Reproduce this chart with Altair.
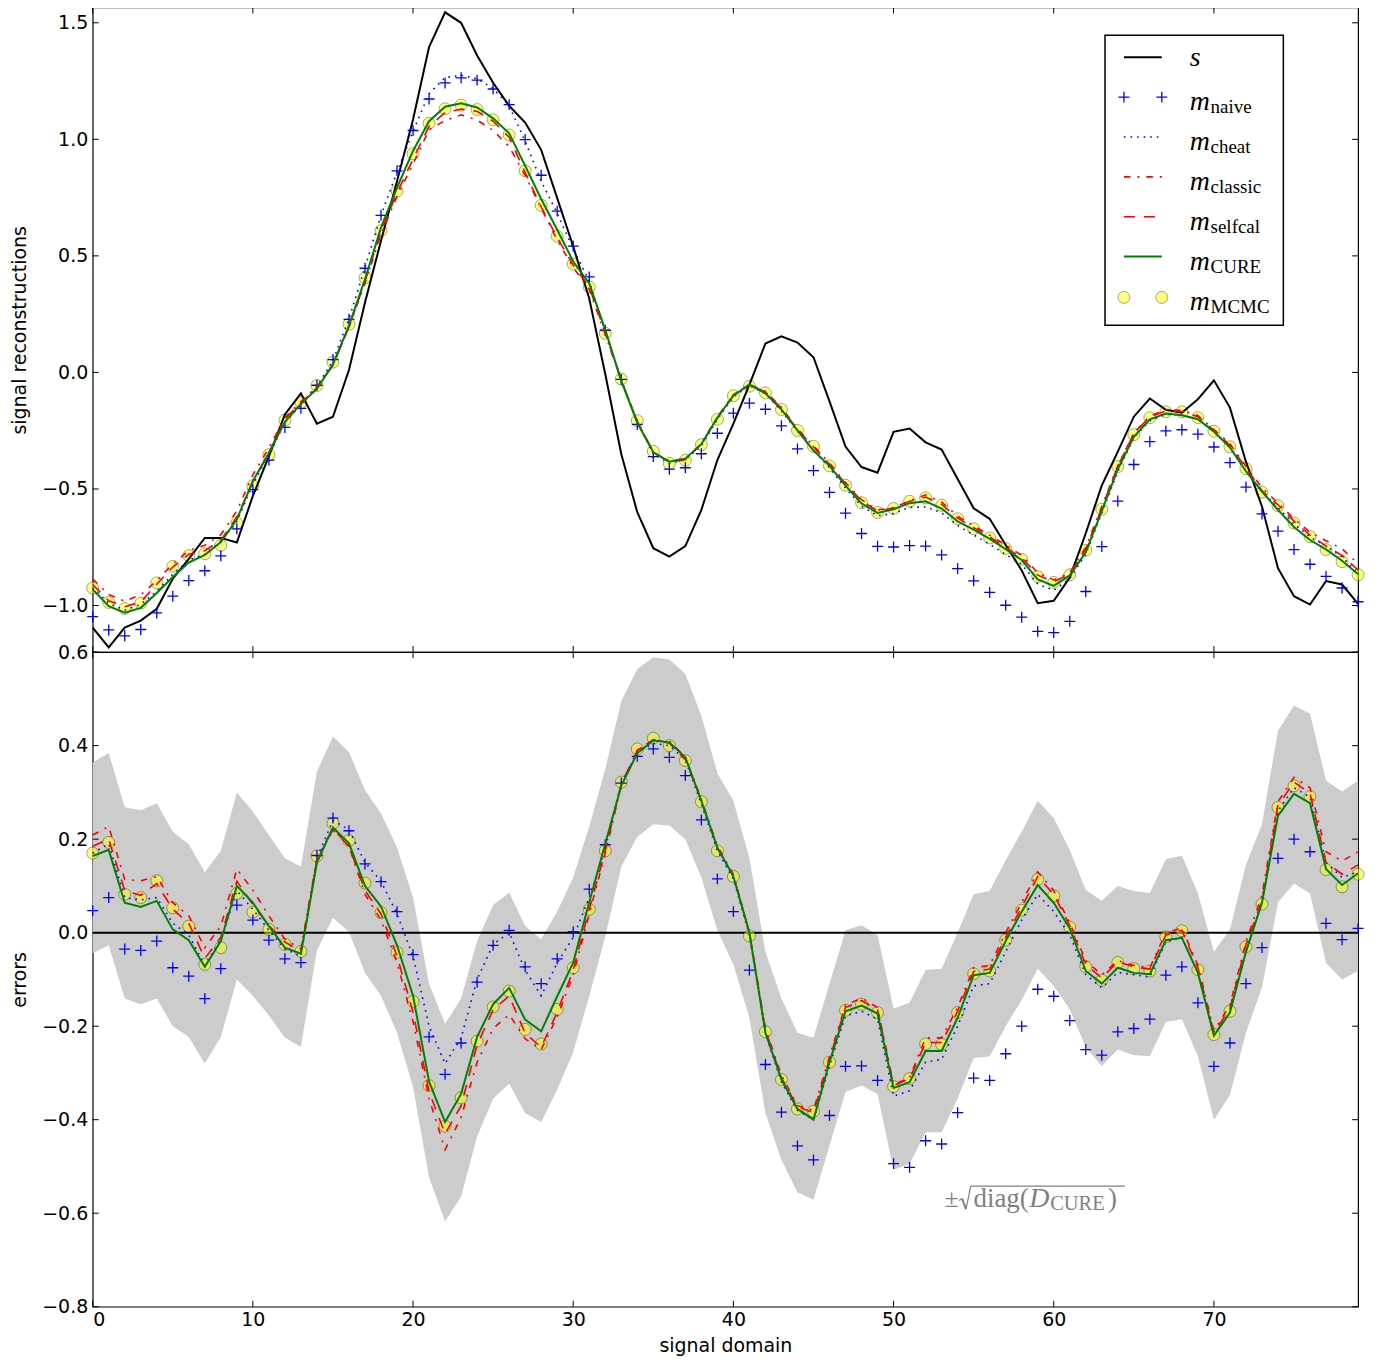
import altair as alt
import pandas as pd

# ---------------- data ----------------
x_vals = list(range(80))

s = [-1.095, -1.18, -1.095, -1.065, -1.014, -0.885, -0.80, -0.71, -0.71, -0.73,
     -0.53, -0.36, -0.18, -0.09, -0.22, -0.19, 0.01, 0.30, 0.565, 0.82,
     1.085, 1.396, 1.545, 1.50, 1.36, 1.243, 1.144, 1.072, 0.955, 0.748,
     0.54, 0.317, -0.007, -0.35, -0.60, -0.754, -0.79, -0.745, -0.59, -0.376,
     -0.22, -0.052, 0.124, 0.155, 0.128, 0.065, -0.124, -0.318, -0.406, -0.43,
     -0.255, -0.241, -0.30, -0.331, -0.457, -0.583, -0.628, -0.74, -0.85, -0.99,
     -0.98, -0.88, -0.69, -0.485, -0.34, -0.19, -0.112, -0.16, -0.173, -0.115,
     -0.034, -0.151, -0.383, -0.575, -0.84, -0.96, -0.996, -0.895, -0.91, -0.993]

err_naive = [0.047, 0.075, -0.035, -0.038, -0.018, -0.075, -0.093, -0.141, -0.077, 0.059,
             0.027, -0.016, -0.056, -0.064, 0.165, 0.245, 0.218, 0.147, 0.109, 0.045,
             -0.047, -0.223, -0.303, -0.236, -0.106, -0.027, 0.005, -0.073, -0.109, -0.056,
             0.002, 0.093, 0.188, 0.32, 0.377, 0.393, 0.375, 0.336, 0.241, 0.115,
             0.045, -0.08, -0.282, -0.384, -0.456, -0.486, -0.391, -0.286, -0.285, -0.316,
             -0.494, -0.502, -0.445, -0.452, -0.385, -0.311, -0.316, -0.259, -0.2, -0.121,
             -0.136, -0.188, -0.25, -0.262, -0.212, -0.205, -0.185, -0.091, -0.073, -0.15,
             -0.286, -0.236, -0.109, -0.032, 0.159, 0.2, 0.173, 0.02, -0.015, 0.009]

err_cheat = [0.17, 0.19, 0.075, 0.07, 0.075, 0.02, -0.005, -0.07, -0.015, 0.09,
             0.05, 0.005, -0.035, -0.05, 0.16, 0.24, 0.22, 0.15, 0.11, 0.04,
             -0.05, -0.2, -0.28, -0.225, -0.1, -0.025, 0.0, -0.08, -0.135, -0.065,
             -0.01, 0.075, 0.18, 0.32, 0.385, 0.405, 0.40, 0.37, 0.275, 0.175,
             0.115, -0.005, -0.215, -0.32, -0.38, -0.40, -0.285, -0.178, -0.168, -0.185,
             -0.35, -0.338, -0.277, -0.271, -0.2, -0.114, -0.109, -0.041, 0.027, 0.082,
             0.045, -0.005, -0.09, -0.118, -0.085, -0.09, -0.095, -0.02, -0.01, -0.085,
             -0.22, -0.17, -0.04, 0.065, 0.26, 0.31, 0.29, 0.15, 0.118, 0.13]

err_classic = [0.209, 0.227, 0.114, 0.111, 0.12, 0.064, 0.036, -0.032, 0.014, 0.136,
               0.091, 0.036, -0.014, -0.035, 0.159, 0.223, 0.184, 0.082, 0.027, -0.064,
               -0.19, -0.355, -0.464, -0.395, -0.277, -0.205, -0.175, -0.227, -0.25, -0.18,
               -0.09, 0.04, 0.17, 0.315, 0.39, 0.41, 0.41, 0.375, 0.285, 0.185,
               0.125, 0.0, -0.205, -0.305, -0.37, -0.38, -0.265, -0.155, -0.14, -0.16,
               -0.325, -0.31, -0.225, -0.225, -0.16, -0.075, -0.07, 0.0, 0.065, 0.13,
               0.09, 0.02, -0.06, -0.09, -0.06, -0.07, -0.075, 0.0, 0.01, -0.07,
               -0.21, -0.155, -0.02, 0.08, 0.28, 0.332, 0.31, 0.173, 0.153, 0.173]

err_selfcal = [0.185, 0.2, 0.09, 0.08, 0.105, 0.05, 0.02, -0.055, -0.01, 0.11,
               0.06, 0.015, -0.02, -0.04, 0.155, 0.22, 0.185, 0.09, 0.04, -0.05,
               -0.17, -0.34, -0.43, -0.37, -0.24, -0.165, -0.135, -0.215, -0.245, -0.17,
               -0.08, 0.05, 0.175, 0.318, 0.39, 0.413, 0.405, 0.37, 0.283, 0.18,
               0.122, 0.0, -0.208, -0.31, -0.372, -0.385, -0.27, -0.16, -0.145, -0.165,
               -0.327, -0.312, -0.235, -0.235, -0.168, -0.083, -0.078, -0.01, 0.055, 0.12,
               0.082, 0.015, -0.068, -0.097, -0.062, -0.073, -0.078, -0.005, 0.005, -0.075,
               -0.214, -0.162, -0.026, 0.068, 0.272, 0.322, 0.298, 0.15, 0.125, 0.145]

err_cure = [0.164, 0.177, 0.064, 0.055, 0.068, 0.007, -0.016, -0.073, -0.018, 0.10,
            0.064, 0.014, -0.032, -0.045, 0.15, 0.225, 0.191, 0.10, 0.056, -0.027,
            -0.135, -0.318, -0.405, -0.345, -0.223, -0.153, -0.118, -0.186, -0.211, -0.136,
            -0.064, 0.065, 0.19, 0.314, 0.384, 0.411, 0.407, 0.375, 0.282, 0.182,
            0.12, 0.0, -0.214, -0.314, -0.377, -0.4, -0.277, -0.168, -0.156, -0.173,
            -0.332, -0.32, -0.253, -0.253, -0.182, -0.091, -0.086, -0.018, 0.045, 0.102,
            0.064, 0.009, -0.082, -0.109, -0.075, -0.086, -0.089, -0.016, -0.011, -0.086,
            -0.22, -0.171, -0.041, 0.064, 0.25, 0.297, 0.277, 0.136, 0.102, 0.127]

err_mcmc = [0.17, 0.193, 0.082, 0.075, 0.111, 0.053, 0.014, -0.068, -0.032, 0.084,
            0.044, 0.007, -0.025, -0.04, 0.164, 0.234, 0.197, 0.106, 0.043, -0.042,
            -0.147, -0.327, -0.414, -0.353, -0.232, -0.159, -0.125, -0.207, -0.238, -0.164,
            -0.075, 0.05, 0.175, 0.322, 0.393, 0.416, 0.40, 0.368, 0.28, 0.175,
            0.12, -0.007, -0.212, -0.314, -0.377, -0.382, -0.277, -0.166, -0.153, -0.171,
            -0.329, -0.312, -0.238, -0.239, -0.171, -0.088, -0.082, -0.016, 0.048, 0.114,
            0.079, 0.012, -0.073, -0.102, -0.064, -0.077, -0.082, -0.009, 0.004, -0.079,
            -0.218, -0.168, -0.03, 0.061, 0.268, 0.314, 0.291, 0.135, 0.098, 0.125]

band_upper = [0.364, 0.384, 0.268, 0.262, 0.277, 0.216, 0.189, 0.129, 0.175, 0.30,
              0.259, 0.209, 0.159, 0.141, 0.344, 0.42, 0.386, 0.305, 0.255, 0.182,
              0.075, -0.109, -0.195, -0.141, -0.018, 0.059, 0.086, 0.014, -0.014, 0.045,
              0.118, 0.227, 0.35, 0.495, 0.564, 0.589, 0.584, 0.553, 0.464, 0.341,
              0.282, 0.159, -0.041, -0.141, -0.214, -0.225, -0.109, 0.005, 0.016, -0.005,
              -0.162, -0.15, -0.08, -0.077, 0.0, 0.082, 0.089, 0.155, 0.216, 0.282,
              0.245, 0.177, 0.091, 0.068, 0.1, 0.089, 0.085, 0.157, 0.165, 0.084,
              -0.041, 0.007, 0.145, 0.232, 0.432, 0.486, 0.468, 0.325, 0.302, 0.325]

band_lower = [-0.044, -0.027, -0.141, -0.153, -0.141, -0.2, -0.223, -0.28, -0.223, -0.1,
              -0.135, -0.177, -0.225, -0.244, -0.038, 0.032, 0.002, -0.086, -0.135, -0.214,
              -0.33, -0.523, -0.618, -0.564, -0.436, -0.355, -0.323, -0.386, -0.405, -0.336,
              -0.255, -0.136, -0.009, 0.141, 0.205, 0.232, 0.229, 0.2, 0.118, 0.005,
              -0.068, -0.182, -0.386, -0.486, -0.555, -0.571, -0.455, -0.341, -0.327, -0.345,
              -0.507, -0.495, -0.427, -0.427, -0.355, -0.268, -0.265, -0.2, -0.144, -0.077,
              -0.114, -0.164, -0.245, -0.285, -0.25, -0.262, -0.264, -0.191, -0.185, -0.264,
              -0.4, -0.347, -0.214, -0.118, 0.065, 0.105, 0.084, -0.065, -0.1, -0.082]

x_ticks = [0, 10, 20, 30, 40, 50, 60, 70]
top_y_ticks = [-1.0, -0.5, 0.0, 0.5, 1.0, 1.5]
bot_y_ticks = [-0.8, -0.6, -0.4, -0.2, 0.0, 0.2, 0.4, 0.6]
zero_line = [0.0]

legend_main = ["s", "m", "m", "m", "m", "m", "m"]
legend_sub = ["", "naive", "cheat", "classic", "selfcal", "CURE", "MCMC"]

# ---------------- table ----------------
df = pd.DataFrame({"x": x_vals, "s": s, "lo": band_lower, "hi": band_upper})
for name, err in [("naive", err_naive), ("cheat", err_cheat), ("classic", err_classic),
                  ("selfcal", err_selfcal), ("cure", err_cure), ("mcmc", err_mcmc)]:
    df["m_" + name] = [a + b for a, b in zip(s, err)]
    df["e_" + name] = err

# ---------------- layout / styles ----------------
W, H1, H2 = 1270, 647, 657
SERIF = "Liberation Serif"
FS = 19
PLUS = "M-1,0L1,0M0,-1L0,1"
xsc = alt.Scale(domain=[0, 79], nice=False, zero=False)
ysc1 = alt.Scale(domain=[-1.2, 1.5658], nice=False, zero=False)
ysc2 = alt.Scale(domain=[-0.8, 0.6], nice=False, zero=False)
yax1 = alt.Axis(values=top_y_ticks, format=".1f", title="signal reconstructions",
                labelPadding=5, titlePadding=12)
yax2 = alt.Axis(values=bot_y_ticks, format=".1f", title="errors",
                labelPadding=5, titlePadding=12)
xax2 = alt.Axis(values=x_ticks, format="d", title="signal domain",
                labelPadding=4, titlePadding=7)

line_styles = {
    "cheat": dict(color="#0000ff", strokeWidth=1.6, strokeDash=[1.6, 5]),
    "classic": dict(color="#ff0000", strokeWidth=1.6, strokeDash=[6.5, 7, 2, 7]),
    "selfcal": dict(color="#ff0000", strokeWidth=1.6, strokeDash=[11, 9]),
    "cure": dict(color="#008000", strokeWidth=2),
}
mcmc_style = dict(shape="circle", size=144, filled=True, fill="#ffff00", fillOpacity=0.5,
                  stroke="#000000", strokeOpacity=0.35, strokeWidth=1)
naive_style = dict(shape=PLUS, size=121, filled=False, stroke="#0000ff", strokeWidth=1.3,
                   opacity=1)

dummy = pd.DataFrame({"a": [0]})


def tick_layers(H, ysc, yax, yvals, xax):
    tx = alt.Chart(pd.DataFrame({"t": x_ticks}))
    ty = alt.Chart(pd.DataFrame({"t": yvals}))
    X = alt.X("t:Q", scale=xsc, axis=xax)
    Y = alt.Y("t:Q", scale=ysc, axis=yax)
    r = dict(color="black", strokeWidth=1)
    return [
        tx.mark_rule(**r).encode(x=X, y=alt.value(H), y2=alt.value(H - 6)),
        tx.mark_rule(**r).encode(x=X, y=alt.value(0), y2=alt.value(6)),
        ty.mark_rule(**r).encode(y=Y, x=alt.value(0), x2=alt.value(6)),
        ty.mark_rule(**r).encode(y=Y, x=alt.value(W), x2=alt.value(W - 6)),
    ]


def series_layers(prefix, ysc, yax, xax):
    base = alt.Chart(df)
    X = alt.X("x:Q", scale=xsc, axis=xax)

    def Y(f):
        return alt.Y(f + ":Q", scale=ysc, axis=yax)

    layers = [base.mark_point(**mcmc_style).encode(x=X, y=Y(prefix + "mcmc"))]
    if prefix == "m_":
        layers.append(base.mark_line(color="black", strokeWidth=2).encode(x=X, y=Y("s")))
    layers.append(base.mark_point(**naive_style).encode(x=X, y=Y(prefix + "naive")))
    for nm in ["cheat", "classic", "selfcal", "cure"]:
        layers.append(base.mark_line(**line_styles[nm]).encode(x=X, y=Y(prefix + nm)))
    return layers


# ---------------- legend (top panel) ----------------
leg_y = [50, 90, 130, 170, 210, 250, 291]
lx0, lx1, ltx, lsx = 1035, 1073, 1101, 1122
d = alt.Chart(dummy)
legend = [d.mark_rect(fill="white", stroke="black", strokeWidth=1.5).encode(
    x=alt.value(1016), x2=alt.value(1195), y=alt.value(28), y2=alt.value(319))]
legend.append(d.mark_rule(color="black", strokeWidth=2).encode(
    x=alt.value(lx0), x2=alt.value(lx1), y=alt.value(leg_y[0])))
for xx in (lx0, lx1):
    legend.append(d.mark_point(**naive_style).encode(x=alt.value(xx), y=alt.value(leg_y[1])))
    legend.append(d.mark_point(**mcmc_style).encode(x=alt.value(xx), y=alt.value(leg_y[6])))
for i, nm in zip([2, 3, 4, 5], ["cheat", "classic", "selfcal", "cure"]):
    legend.append(d.mark_rule(**line_styles[nm]).encode(
        x=alt.value(lx0), x2=alt.value(lx1), y=alt.value(leg_y[i])))
for i in range(7):
    legend.append(d.mark_text(text=legend_main[i], font=SERIF, fontStyle="italic", fontSize=28,
                              align="left", baseline="alphabetic", color="black").encode(
        x=alt.value(ltx), y=alt.value(leg_y[i] + (9 if i == 0 else 13))))
    if legend_sub[i]:
        legend.append(d.mark_text(text=legend_sub[i], font=SERIF, fontSize=19, align="left",
                                  baseline="alphabetic", color="black").encode(
            x=alt.value(lsx), y=alt.value(leg_y[i] + 16)))

# ---------------- annotation (bottom panel) ----------------
GRAY = "#808080"


def seg(x0, y0, x1, y1, w=1.3):
    return d.mark_rule(color=GRAY, strokeWidth=w).encode(
        x=alt.value(x0), y=alt.value(y0), x2=alt.value(x1), y2=alt.value(y1))


annot = [
    d.mark_text(text="±", font=SERIF, fontSize=26, align="left", baseline="alphabetic",
                color=GRAY).encode(x=alt.value(855), y=alt.value(557)),
    seg(869.5, 550.5, 872.5, 548.5, 1.2),
    seg(872.5, 548.5, 876.5, 559, 2.0),
    seg(876.5, 559, 881.3, 536, 1.2),
    seg(881.3, 536, 1036, 536, 1.4),
    d.mark_text(text="diag(", font=SERIF, fontSize=27, align="left", baseline="alphabetic",
                color=GRAY).encode(x=alt.value(884), y=alt.value(557)),
    d.mark_text(text="D", font=SERIF, fontStyle="italic", fontSize=28, align="left",
                baseline="alphabetic", color=GRAY).encode(x=alt.value(940), y=alt.value(557)),
    d.mark_text(text="CURE", font=SERIF, fontSize=20.5, align="left", baseline="alphabetic",
                color=GRAY).encode(x=alt.value(961), y=alt.value(560)),
    d.mark_text(text=")", font=SERIF, fontSize=27, align="left", baseline="alphabetic",
                color=GRAY).encode(x=alt.value(1019), y=alt.value(557)),
]

# ---------------- panels ----------------
top = alt.layer(
    *series_layers("m_", ysc1, yax1, None),
    *tick_layers(H1, ysc1, yax1, top_y_ticks, None),
    *legend,
).properties(width=W, height=H1)

band = alt.Chart(df).mark_area(color="#cccccc", opacity=1).encode(
    x=alt.X("x:Q", scale=xsc, axis=xax2),
    y=alt.Y("lo:Q", scale=ysc2, axis=yax2),
    y2="hi:Q")
zero = alt.Chart(pd.DataFrame({"z": zero_line})).mark_rule(color="black", strokeWidth=2).encode(
    y=alt.Y("z:Q", scale=ysc2, axis=yax2))

bottom = alt.layer(
    band, zero,
    *series_layers("e_", ysc2, yax2, xax2),
    *tick_layers(H2, ysc2, yax2, bot_y_ticks, xax2),
    *annot,
).properties(width=W, height=H2)

chart = alt.vconcat(top, bottom, spacing=0, bounds="flush").properties(
    padding={"left": 2, "top": -5, "right": 10, "bottom": 0},
    background="white",
).configure_view(stroke="black", strokeWidth=1.2).configure_axis(
    labelFont="DejaVu Sans", labelFontSize=FS, labelColor="black",
    titleFont="DejaVu Sans", titleFontSize=FS, titleFontWeight="normal", titleColor="black",
    ticks=False, domain=False, grid=False,
)

chart.save("out.html", embed_options={"renderer": "svg", "actions": False})
